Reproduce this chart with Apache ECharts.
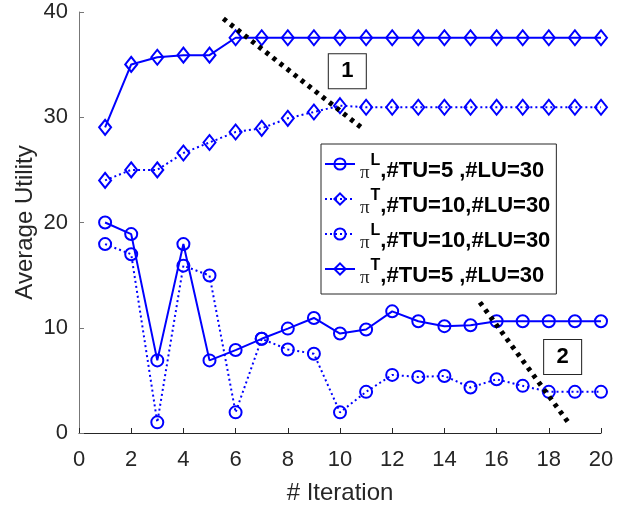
<!DOCTYPE html>
<html>
<head>
<meta charset="utf-8">
<script src="https://cdn.jsdelivr.net/npm/echarts@6/dist/echarts.min.js"></script>
<style>html,body{margin:0;padding:0;background:#fff}#c{width:626px;height:510px}</style>
</head>
<body>
<div id="c"></div>
<script>
// ---- data ----
const iterations = [1,2,3,4,5,6,7,8,9,10,11,12,13,14,15,16,17,18,19,20];
// pi^L, #TU=5, #LU=30 (solid, circle)
const piL_TU5 = [20.0,18.9,6.9,17.95,6.9,7.88,8.95,9.92,10.93,9.45,9.83,11.56,10.62,10.15,10.24,10.62,10.62,10.62,10.62,10.62];
// pi^T, #TU=10, #LU=30 (dotted, diamond)
const piT_TU10 = [24.0,25.0,25.0,26.6,27.6,28.6,28.95,29.9,30.5,31.1,30.95,30.95,30.95,30.95,30.95,30.95,30.95,30.95,30.95,30.95];
// pi^L, #TU=10, #LU=30 (dotted, circle)
const piL_TU10 = [17.95,16.98,1.01,15.9,14.96,1.96,8.95,7.94,7.53,1.96,3.91,5.52,5.33,5.42,4.32,5.1,4.48,3.91,3.91,3.91];
// pi^T, #TU=5, #LU=30 (solid, diamond)
const piT_TU5 = [29.04,35.02,35.7,35.9,35.9,37.55,37.55,37.55,37.55,37.55,37.55,37.55,37.55,37.55,37.55,37.55,37.55,37.55,37.55,37.55];

const seriesNames = ['π^L,#TU=5 ,#LU=30','π^T,#TU=10,#LU=30','π^L,#TU=10,#LU=30','π^T,#TU=5 ,#LU=30'];

// black dotted guide lines (data coords)
const guide1 = [[5.53,39.37],[10.89,28.88]];
const guide2 = [[15.36,12.41],[18.79,0.85]];
// annotation boxes
const annotLabels = ['1','2'];
const annotX = [10.28,18.53];
const annotY = [34.38,7.23];

const xTicks = {min:0,max:20,interval:2};
const yTicks = {min:0,max:40,interval:10};

// ---- chart ----
const BLUE = '#0000ff';
const dotted = [2,3];
function blueSeries(name, values, symbol, solid, size) {
  return {
    name: name, type: 'line',
    data: iterations.map((x,i)=>[x, values[i]]),
    symbol: symbol, symbolSize: size,
    showAllSymbol: true,
    lineStyle: {color: BLUE, width: 2, type: solid ? 'solid' : dotted},
    itemStyle: {color: 'rgba(255,255,255,0)', borderColor: BLUE, borderWidth: 2},
    emphasis: {disabled: true},
    z: 2
  };
}

const chart = echarts.init(document.getElementById('c'), null, {renderer:'canvas'});
const FONT = 'Liberation Sans, Arial, Helvetica, sans-serif';
const option = {
  animation: false,
  backgroundColor: '#ffffff',
  grid: {left: 79, right: 25, top: 12, bottom: 74, containLabel: false},
  xAxis: {
    type: 'value', min: xTicks.min, max: xTicks.max, interval: xTicks.interval,
    name: '# Iteration', nameLocation: 'middle', nameGap: 48, nameMoveOverlap: false,
    nameTextStyle: {fontFamily: FONT, fontSize: 24, color: '#262626'},
    axisLine: {show: true, lineStyle: {color: '#262626', width: 1}},
    axisTick: {show: true, inside: true, length: 5, lineStyle: {color: '#262626'}},
    axisLabel: {fontFamily: FONT, fontSize: 22, color: '#262626', margin: 16},
    splitLine: {show: false}
  },
  yAxis: {
    type: 'value', min: yTicks.min, max: yTicks.max, interval: yTicks.interval,
    name: 'Average Utility', nameLocation: 'middle', nameGap: 42, nameRotate: 90, nameMoveOverlap: false,
    nameTextStyle: {fontFamily: FONT, fontSize: 24, color: '#262626'},
    axisLine: {show: true, lineStyle: {color: '#777777', width: 1}},
    axisTick: {show: true, inside: true, length: 5, lineStyle: {color: '#777777'}},
    axisLabel: {fontFamily: FONT, fontSize: 22, color: '#262626', margin: 11},
    splitLine: {show: false}
  },
  legend: {
    data: seriesNames,
    left: 321, top: 144,
    orient: 'vertical',
    selectedMode: false,
    backgroundColor: '#ffffff',
    borderColor: '#262626', borderWidth: 1,
    padding: [9,6,3,3],
    itemWidth: 30, itemHeight: 14, itemGap: 2,
    formatter: function(name){
      const m = name.match(/^π\^(\w)(.*)$/);
      return '{pi|π}{sup|' + m[1] + '}{main|' + m[2] + '}';
    },
    textStyle: {
      rich: {
        pi: {fontFamily: 'Liberation Serif, DejaVu Serif, serif', fontSize: 19, color: '#262626', lineHeight: 22, padding: [11,0,0,0], verticalAlign: 'top'},
        sup: {fontFamily: FONT, fontWeight: 'bold', fontSize: 16, color: '#000', lineHeight: 16, padding: [0,0,0,1], verticalAlign: 'top'},
        main: {fontFamily: FONT, fontWeight: 'bold', fontSize: 22, color: '#000', lineHeight: 22, padding: [7,0,4,0], verticalAlign: 'top'}
      }
    },
    z: 10
  },
  series: [
    blueSeries(seriesNames[0], piL_TU5, 'circle', true, 12),
    blueSeries(seriesNames[1], piT_TU10, 'diamond', false, [12,15]),
    blueSeries(seriesNames[2], piL_TU10, 'circle', false, 12),
    blueSeries(seriesNames[3], piT_TU5, 'diamond', true, [12,15]),
    {
      type: 'line', data: guide1, symbol: 'none', z: 4,
      lineStyle: {color: '#000', width: 5, type: [4,5], cap: 'butt'},
      emphasis: {disabled: true}, silent: true
    },
    {
      type: 'line', data: guide2, symbol: 'none', z: 4,
      lineStyle: {color: '#000', width: 5, type: [4,5], cap: 'butt'},
      emphasis: {disabled: true}, silent: true
    },
    {
      type: 'scatter', z: 5,
      data: annotLabels.map((t,i)=>({name: t, value: [annotX[i], annotY[i]]})),
      symbol: 'rect', symbolSize: [38,35],
      itemStyle: {color: '#ffffff', borderColor: '#262626', borderWidth: 1, opacity: 1},
      label: {show: true, position: 'inside', formatter: '{b}', fontFamily: FONT, fontWeight: 'bold', fontSize: 22, color: '#000'},
      emphasis: {disabled: true}, silent: true
    }
  ]
};
chart.setOption(option);
</script>
</body>
</html>
